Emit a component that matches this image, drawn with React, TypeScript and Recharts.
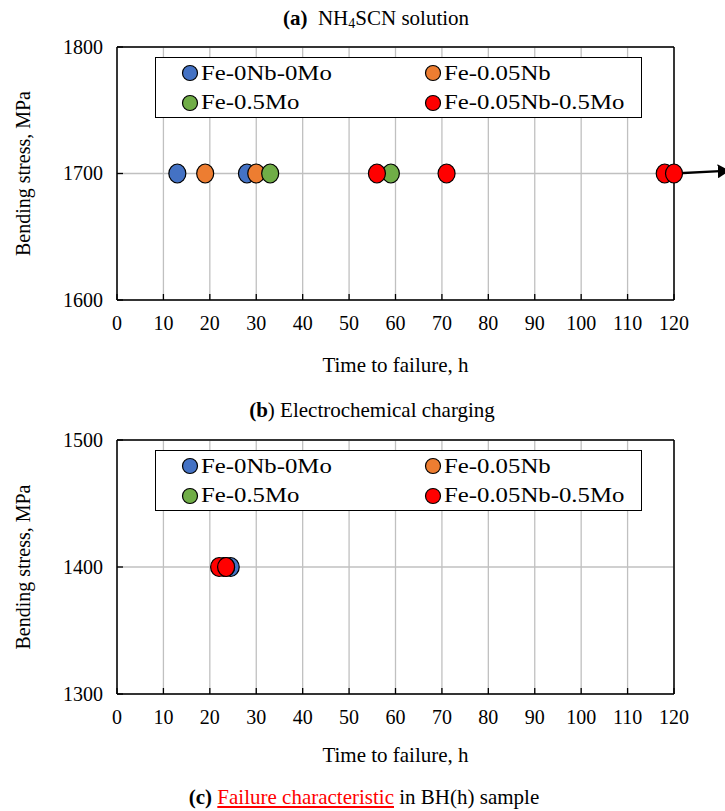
import {
  CartesianGrid,
  Legend,
  ReferenceLine,
  Scatter,
  ScatterChart,
  XAxis,
  YAxis,
} from "recharts";

const FONT = "'Liberation Serif', 'Times New Roman', serif";

const seriesNames = ["Fe-0Nb-0Mo", "Fe-0.05Nb", "Fe-0.5Mo", "Fe-0.05Nb-0.5Mo"];
const seriesColors = ["#4472C4", "#ED7D31", "#70AD47", "#FF0000"];

const timeTicks = [0, 10, 20, 30, 40, 50, 60, 70, 80, 90, 100, 110, 120];

// (a) NH4SCN solution, all at 1700 MPa
const aStress = 1700;
const aTimes = [
  [13, 28],
  [19, 30],
  [33, 59],
  [56, 71, 118, 120],
];
const aStressTicks = [1600, 1700, 1800];

// (b) electrochemical charging, all at 1400 MPa
const bStress = 1400;
const bTimes = [[24.5], [23], [23.5], [22, 23.5]];
const bStressTicks = [1300, 1400, 1500];

const toPoints = (times: number[], stress: number) => times.map((t) => ({ t, s: stress }));

const XTick = (p: any) => (
  <g>
    <line x1={p.x} x2={p.x} y1={p.y - 16} y2={p.y - 22} stroke="#000" strokeWidth={1.3} />
    <text x={p.x} y={p.y} dy="0.71em" textAnchor="middle" fontSize={20} fontFamily={FONT} fill="#000">
      {p.payload.value}
    </text>
  </g>
);

const YTick = (p: any) => (
  <g>
    <line x1={p.x + 14} x2={p.x + 20} y1={p.y} y2={p.y} stroke="#000" strokeWidth={1.3} />
    <text x={p.x} y={p.y} dy="0.34em" textAnchor="end" fontSize={20} fontFamily={FONT} fill="#000">
      {p.payload.value}
    </text>
  </g>
);

const Dot = (p: any) => (
  <ellipse cx={p.cx} cy={p.cy} rx={8.5} ry={9.5} fill={p.fill} stroke="#000" strokeWidth={1.2} />
);

const LegendBox = () => (
  <div
    style={{
      width: 487,
      height: 61,
      boxSizing: "border-box",
      border: "1.5px solid #000",
      background: "#fff",
      display: "grid",
      gridTemplateColumns: "243px 242px",
      gridTemplateRows: "30px 29px",
      fontFamily: FONT,
      fontSize: 21,
      color: "#000",
    }}
  >
    {seriesNames.map((name, i) => (
      <div key={name} style={{ display: "flex", alignItems: "center", paddingLeft: 25 }}>
        <svg width={18} height={18} style={{ marginRight: 2 }}>
          <circle cx={9} cy={9} r={7.5} fill={seriesColors[i]} stroke="#000" strokeWidth={1.2} />
        </svg>
        <span style={{ display: "inline-block", transform: "scaleX(1.18)", transformOrigin: "left center", whiteSpace: "nowrap" }}>
          {name}
        </span>
      </div>
    ))}
  </div>
);

function Panel({
  times,
  stress,
  stressTicks,
  height,
  top,
  labelOffset,
  arrow,
}: {
  times: number[][];
  stress: number;
  stressTicks: number[];
  height: number;
  top: number;
  labelOffset: number;
  arrow?: boolean;
}) {
  return (
    <ScatterChart
      width={725}
      height={height}
      margin={{ top, right: 51, left: 0, bottom: 0 }}
      style={{ fontFamily: FONT }}
    >
      <defs>
        <marker id="arrowHead" markerWidth="12" markerHeight="14" refX="11" refY="7" orient="auto" markerUnits="userSpaceOnUse">
          <path d="M0,0 L12,7 L0,14 z" fill="#000" />
        </marker>
      </defs>
      <CartesianGrid stroke="#C0C0C0" strokeWidth={1.3} />
      <XAxis
        type="number"
        dataKey="t"
        domain={[0, 120]}
        ticks={timeTicks}
        interval={0}
        tickSize={0}
        tickMargin={16}
        tick={<XTick />}
        axisLine={{ stroke: "#000", strokeWidth: 1.5 }}
        height={80}
        label={{
          value: "Time to failure, h",
          position: "insideBottom",
          offset: labelOffset,
          fontSize: 21,
          fontFamily: FONT,
          fill: "#000",
        }}
      />
      <YAxis
        type="number"
        dataKey="s"
        domain={[stressTicks[0], stressTicks[2]]}
        ticks={stressTicks}
        interval={0}
        tickSize={0}
        tickMargin={14}
        tick={<YTick />}
        axisLine={{ stroke: "#000", strokeWidth: 1.5 }}
        width={117}
        label={{
          content: (lp: any) => {
            const vb = lp.viewBox;
            const cx = vb.x + 23;
            const cy = vb.y + vb.height / 2;
            return (
              <text
                x={cx}
                y={cy}
                transform={`rotate(-90 ${cx} ${cy})`}
                textAnchor="middle"
                dominantBaseline="central"
                fontSize={20}
                fontFamily={FONT}
                fill="#000"
              >
                Bending stress, MPa
              </text>
            );
          },
        }}
      />
      <ReferenceLine y={stressTicks[2]} stroke="#000" strokeWidth={1.5} />
      <ReferenceLine x={120} stroke="#000" strokeWidth={1.5} />
      {arrow && (
        <ReferenceLine
          segment={[
            { x: 120, y: 1700 },
            { x: 131.8, y: 1702.2 },
          ]}
          ifOverflow="visible"
          stroke="#000"
          strokeWidth={2.4}
          markerEnd="url(#arrowHead)"
        />
      )}
      <Legend
        verticalAlign="middle"
        align="center"
        content={<LegendBox />}
        wrapperStyle={{ left: 155, top: top + 10, width: 487, height: 61 }}
      />
      {seriesNames.map((name, i) => (
        <Scatter
          key={name}
          name={name}
          data={toPoints(times[i], stress)}
          fill={seriesColors[i]}
          shape={<Dot />}
          isAnimationActive={false}
        />
      ))}
    </ScatterChart>
  );
}

const titleStyle: React.CSSProperties = {
  position: "absolute",
  width: 500,
  textAlign: "center",
  fontFamily: FONT,
  fontSize: 21,
  color: "#000",
  lineHeight: "24px",
  whiteSpace: "nowrap",
};

export default function App() {
  return (
    <div style={{ position: "absolute", left: 0, top: 0, width: 725, height: 811, background: "#fff" }}>
      <div style={{ ...titleStyle, left: 376 - 250, top: 6 }}>
        <b>(a)</b>&nbsp; NH<sub style={{ fontSize: 14, verticalAlign: "-3px" }}>4</sub>SCN solution
      </div>
      <div style={{ position: "absolute", left: 0, top: 0 }}>
        <Panel times={aTimes} stress={aStress} stressTicks={aStressTicks} height={380} top={47} labelOffset={8} arrow />
      </div>
      <div style={{ ...titleStyle, left: 372 - 250, top: 398 }}>
        <b>(b</b>) Electrochemical charging
      </div>
      <div style={{ position: "absolute", left: 0, top: 380 }}>
        <Panel times={bTimes} stress={bStress} stressTicks={bStressTicks} height={394} top={60} labelOffset={12} />
      </div>
      <div style={{ ...titleStyle, left: 364 - 250, top: 785 }}>
        <b>(c)</b> <span style={{ color: "#FF0000", textDecoration: "underline" }}>Failure characteristic</span> in BH(h) sample
      </div>
    </div>
  );
}
